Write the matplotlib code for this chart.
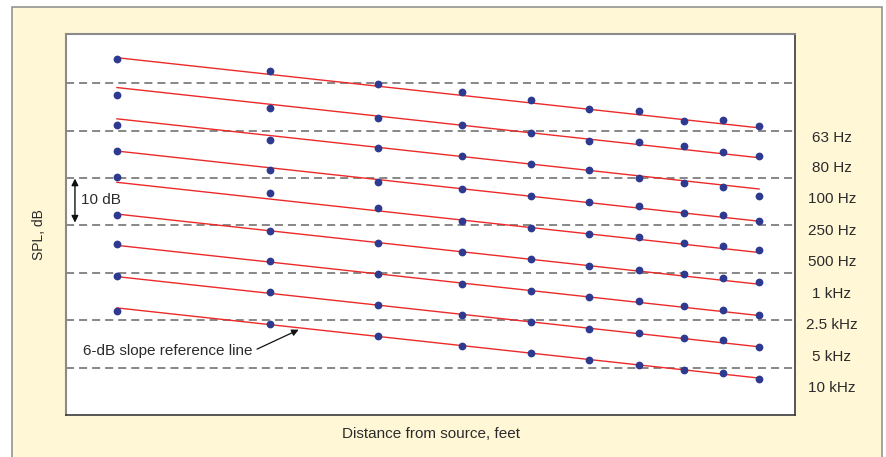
import numpy as np
import matplotlib.pyplot as plt
from matplotlib.patches import Rectangle
from matplotlib.transforms import blended_transform_factory

plt.rcParams['font.family'] = ['Liberation Sans', 'DejaVu Sans']
plt.rcParams['lines.scale_dashes'] = False

# distances (ft) of the measuring points, plotted on a log axis
distance = [2, 3, 4, 5, 6, 7, 8, 9, 10, 11]

bands = ['63 Hz', '80 Hz', '100 Hz', '250 Hz', '500 Hz',
         '1 kHz', '2.5 kHz', '5 kHz', '10 kHz']

# measured SPL, dB (arbitrary reference), one list per band
spl_63 = [75.2, 72.6, 69.8, 68.1, 66.5, 64.6, 64.2, 62.1, 62.2, 61.0]
spl_80 = [67.5, 64.8, 62.7, 61.1, 59.6, 57.9, 57.6, 56.7, 55.5, 54.6]
spl_100 = [61.3, 58.1, 56.3, 54.6, 52.9, 51.6, 50.0, 48.9, 48.2, 46.3]
spl_250 = [55.8, 51.8, 49.2, 47.7, 46.3, 45.0, 44.0, 42.6, 42.1, 41.0]
spl_500 = [50.3, 46.8, 43.7, 41.0, 39.5, 38.1, 37.5, 36.2, 35.7, 34.8]
spl_1k = [42.3, 38.8, 36.4, 34.5, 33.0, 31.5, 30.7, 29.7, 28.9, 28.0]
spl_2k5 = [36.0, 32.5, 29.8, 27.7, 26.2, 25.0, 24.0, 23.1, 22.2, 21.2]
spl_5k = [29.3, 26.0, 23.3, 21.2, 19.7, 18.2, 17.4, 16.2, 15.8, 14.4]
spl_10k = [21.9, 19.2, 16.7, 14.6, 13.0, 11.7, 10.6, 9.6, 8.8, 7.7]
measured = [spl_63, spl_80, spl_100, spl_250, spl_500,
            spl_1k, spl_2k5, spl_5k, spl_10k]

# level of each 6-dB/doubling reference line at the first distance
ref_start = [75.4, 69.1, 62.5, 55.7, 49.1, 42.4, 35.8, 29.2, 22.6]

grid_levels = [10, 20, 30, 40, 50, 60, 70]

fig = plt.figure(figsize=(8.87, 4.57), dpi=100)
fig.patch.set_facecolor('white')
panel = Rectangle((12 / 887, -0.02), 870 / 887, 1.02 - 7.5 / 457,
                  transform=fig.transFigure, facecolor='#fff7d6',
                  edgecolor='#8c8c8c', linewidth=1.1, zorder=-10)
fig.add_artist(panel)

ax = fig.add_axes([66 / 887, 42 / 457, 729 / 887, 381 / 457])
ax.set_zorder(1)
ax.set_facecolor('white')
ax.set_xscale('log')
ax.set_xlim(1.747, 12.10)
ax.set_ylim(0, 80.4)

for lvl in grid_levels:
    ax.axhline(lvl, color='#737373', lw=1.2, dashes=(5.8, 3.6), zorder=1)

d = np.array(distance, dtype=float)
for start, vals in zip(ref_start, measured):
    ax.plot(d, start - 20 * np.log10(d / d[0]), color='#ec2a2a', lw=1.0, zorder=2)
    ax.plot(d, vals, 'o', color='#2d3a90', ms=5.6, mec='none', zorder=3)

text_col = '#2b2b2b'
lbl_tr = blended_transform_factory(fig.transFigure, ax.transData)
for start, name in zip(ref_start, bands):
    end = start - 20 * np.log10(d[-1] / d[0])
    ax.text(832 / 887, end - 2.1, name, transform=lbl_tr, ha='center',
            va='center', fontsize=11, color=text_col, clip_on=False)

# 10 dB scale arrow
ax.annotate('', xy=(1.789, 40.6), xytext=(1.789, 49.9),
            arrowprops=dict(arrowstyle='<|-|>', color='#111111', lw=1.0,
                            shrinkA=0, shrinkB=0, mutation_scale=10))
ax.text(1.818, 45.4, '10 dB', ha='left', va='center', fontsize=11, color=text_col)

# reference line call-out
ax.annotate('6-dB slope reference line', xy=(3.24, 18.0), xytext=(2.87, 13.5),
            ha='right', va='center', fontsize=11, color=text_col,
            arrowprops=dict(arrowstyle='-|>', color='#111111', lw=0.9,
                            shrinkA=1, shrinkB=0, mutation_scale=10,
                            relpos=(1, 0.5)))

ax.set_xticks([])
ax.set_yticks([])
ax.xaxis.set_minor_locator(plt.NullLocator())
for side in ['left', 'top']:
    ax.spines[side].set_color('#8a8a8a')
    ax.spines[side].set_linewidth(1.5)
for side in ['right', 'bottom']:
    ax.spines[side].set_color('#3a3a3a')
    ax.spines[side].set_linewidth(1.2)

fig.text(39.5 / 887, 1 - 235 / 457, 'SPL, dB', rotation=90, ha='center',
         va='center', fontsize=10, color=text_col)
fig.text(431 / 887, 1 - 434 / 457, 'Distance from source, feet', ha='center',
         va='center', fontsize=11, color=text_col)

fig.savefig('out.png', dpi=100)
